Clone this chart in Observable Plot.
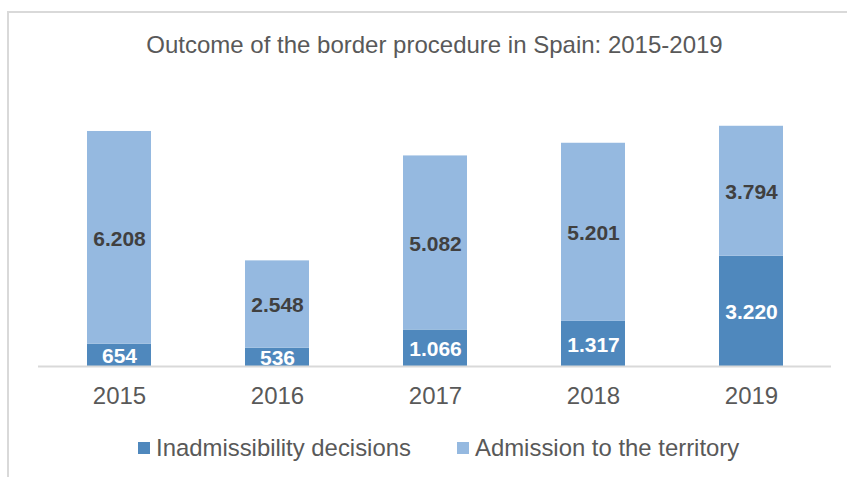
<!DOCTYPE html>
<html>
<head>
<meta charset="utf-8">
<script src="https://cdn.jsdelivr.net/npm/d3@7"></script>
<script src="https://cdn.jsdelivr.net/npm/@observablehq/plot@0.6"></script>
<style>
  html, body { margin: 0; padding: 0; background: #fff; }
  #wrap { position: relative; width: 847px; height: 477px; overflow: hidden; font-family: "Liberation Sans", Arial, sans-serif; }
  #frame { position: absolute; left: 7px; top: 11px; width: 900px; height: 500px; border-left: 2px solid #d9d9d9; border-top: 2px solid #d9d9d9; }
  #title { position: absolute; left: 38px; width: 793px; top: 31px; text-align: center; font-size: 24px; color: #595959; line-height: 28px; }
  #chart { position: absolute; left: 0; top: 0; }
  .leg { position: absolute; top: 434px; font-size: 23.9px; color: #595959; line-height: 28px; white-space: nowrap; }
  .sw { position: absolute; width: 12px; height: 12px; top: 442px; }
</style>
</head>
<body>
<div id="wrap">
  <div id="frame"></div>
  <div id="chart"></div>
  <div id="title">Outcome of the border procedure in Spain: 2015-2019</div>
  <div id="legend"></div>
</div>
<script>
const years = ["2015", "2016", "2017", "2018", "2019"];
const seriesNames = ["Inadmissibility decisions", "Admission to the territory"];
const inadmissibility = [654, 536, 1066, 1317, 3220];
const admission = [6208, 2548, 5082, 5201, 3794];
const seriesColors = ["#4f88bd", "#95b9e0"];
const labelColors = ["#ffffff", "#404040"];

const data = [];
years.forEach((y, i) => data.push({year: y, series: seriesNames[0], value: inadmissibility[i]}));
years.forEach((y, i) => data.push({year: y, series: seriesNames[1], value: admission[i]}));

const fmt = d3.formatLocale({decimal: ",", thousands: ".", grouping: [3], currency: ["", ""]}).format(",");

const chart = Plot.plot({
  width: 847,
  height: 420,
  marginTop: 92,
  marginBottom: 54,
  marginLeft: 38,
  marginRight: 16,
  style: {background: "transparent", color: "#595959", fontFamily: "'Liberation Sans', Arial, sans-serif", overflow: "visible"},
  x: {domain: years, paddingInner: 0.596, paddingOuter: 0.298, label: null},
  y: {domain: [0, 8000], axis: null},
  color: {domain: seriesNames, range: seriesColors},
  marks: [
    Plot.barY(data, {x: "year", y: "value", fill: "series", order: seriesNames}),
    Plot.ruleY([0], {stroke: "#d9d9d9", strokeWidth: 2}),
    Plot.text(data, Plot.stackY({
      x: "year", y: "value", z: "series", order: seriesNames,
      text: d => fmt(d.value),
      fill: d => labelColors[seriesNames.indexOf(d.series)],
      fontSize: 21, fontWeight: "bold", dy: 1
    })),
    Plot.axisX({tickSize: 0, tickPadding: 20, fontSize: 24, label: null})
  ]
});
document.getElementById("chart").appendChild(chart);

const legend = document.getElementById("legend");
const legPos = [[138, 156], [457, 475]];
seriesNames.forEach((name, i) => {
  const sw = document.createElement("div");
  sw.className = "sw";
  sw.style.left = legPos[i][0] + "px";
  sw.style.background = seriesColors[i];
  legend.appendChild(sw);
  const t = document.createElement("div");
  t.className = "leg";
  t.style.left = legPos[i][1] + "px";
  t.textContent = name;
  legend.appendChild(t);
});
</script>
</body>
</html>
